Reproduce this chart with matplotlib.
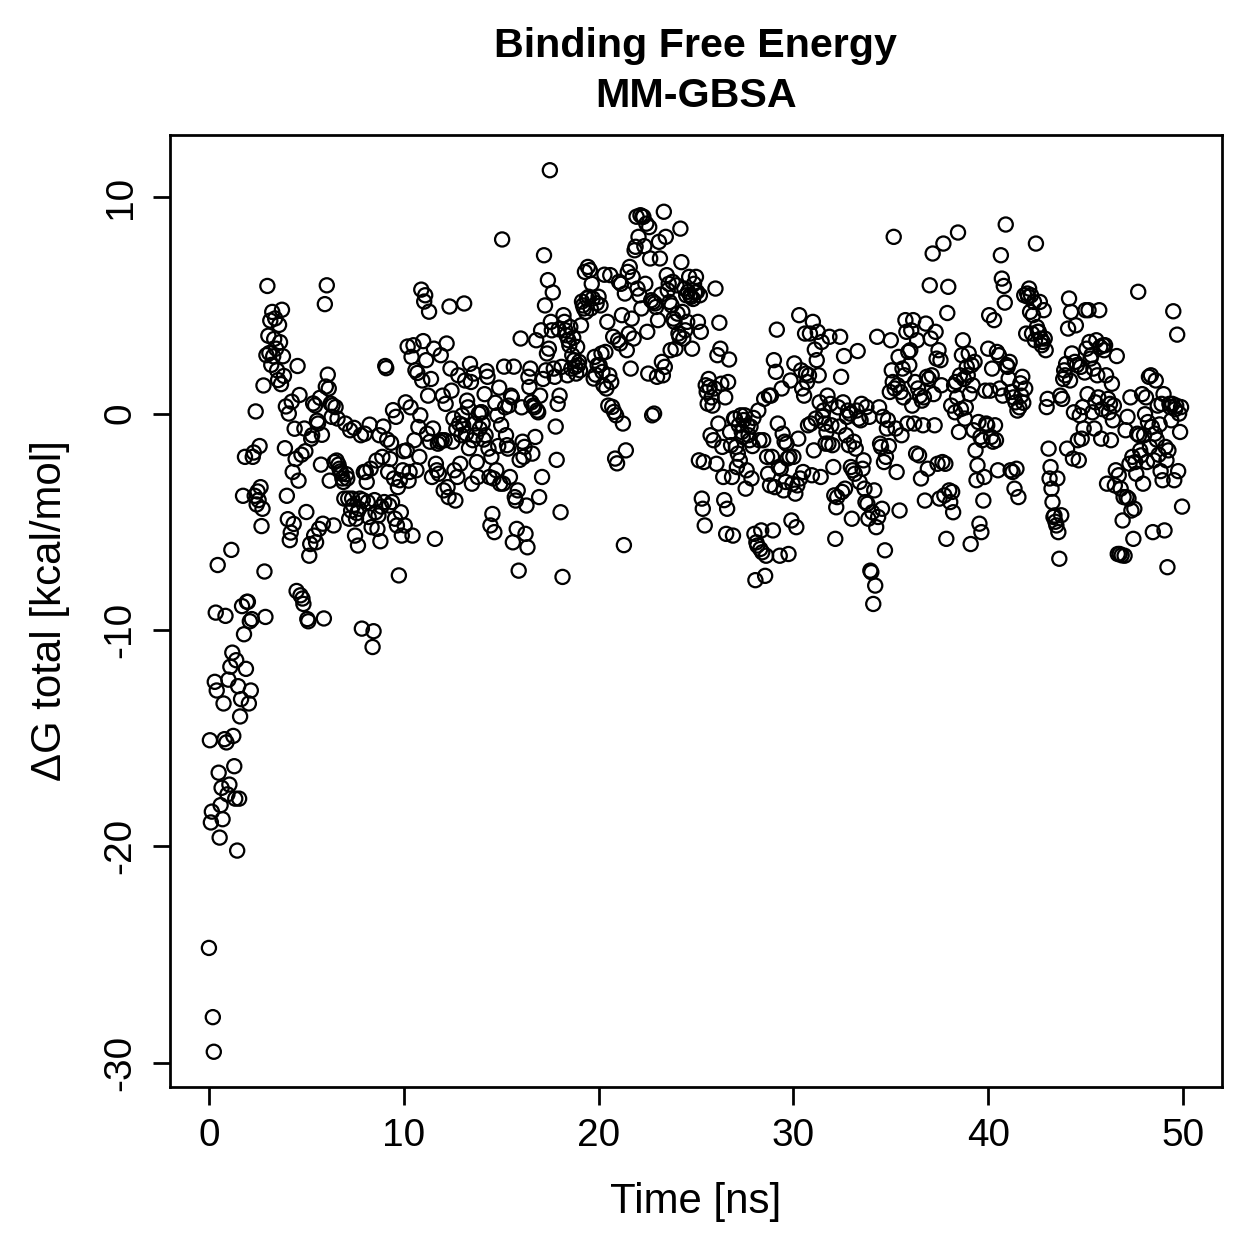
import numpy as np
import matplotlib
matplotlib.use("Agg")
import matplotlib.pyplot as plt

# MM-GBSA total binding free energy per frame (kcal/mol)
# one list per 10 ns of trajectory, 20 frames per ns
dg_00_10 = [
    -24.7, -15.1, -18.9, -18.4, -27.9, -29.5, -12.4, -9.2, -12.8, -7.0,
    -16.6, -19.6, -18.1, -17.3, -18.75, -13.4, -15.05, -9.35, -15.2, -17.6,
    -12.3, -17.15, -11.7, -6.3, -11.05, -14.9, -16.3, -17.8, -11.4, -20.2,
    -12.6, -17.8, -14.0, -13.2, -8.9, -3.8, -10.2, -2.0, -11.8, -8.7,
    -8.7, -13.4, -9.6, -12.8, -9.5, -2.0, -1.8, -3.8, 0.1, -4.2,
    -3.6, -4.0, -1.5, -3.4, -5.2, -4.4, 1.3, -7.3, -9.4, 2.7,
    5.9, 3.6, 2.8, 4.3, 2.25, 4.7, 2.65, 3.45, 4.4, 3.0,
    2.0, 1.55, 4.1, 3.3, 1.36, 4.8, 2.65, 1.74, -1.6, 0.33,
    -3.8, -4.88, 0.0, -5.85, -5.5, 0.55, -2.7, -5.1, -0.7, -2.1,
    -8.2, 2.2, -3.1, 0.86, -8.4, -1.9, -8.55, -8.8, -0.69, -1.74,
    -4.55, -9.5, -9.6, -6.57, -6.03, -1.16, -1.0, 0.47, -5.64, 0.38,
    -5.95, -0.33, -0.46, -5.33, 0.73, -2.36, -0.98, -5.09, -9.47, 5.06,
    1.25, 5.93, 1.8, 1.16, -3.1, 0.46, -0.15, 0.38, -5.17, -2.24,
    0.3, -2.17, -0.23, -2.36, -2.55, -2.67, -2.78, -3.0, -3.16, -3.93,
    -0.46, -2.8, -3.0, -3.93, -4.86, -0.77, -4.48, -3.93, -4.25, -0.66,
    -5.64, -4.86, -4.6, -6.1, -4.4, -3.93, -1.0, -9.94, -4.0, -2.7,
    -0.93, -2.7, -3.16, -4.09, -4.78, -0.51, -2.55, -5.25, -10.79, -10.06,
    -4.0, -4.56, -2.17, -5.33, -4.71, -1.0, -5.9, -4.3, -2.0, -0.6,
    -4.09, 2.2, 2.1, -1.2, -2.7, -4.25, -2.1, -1.35, -4.09, 0.16,
    -3.0, -4.86, -0.15, -5.17, -3.4, -7.48, -3.08, -4.56, -5.64, -2.62,
]
dg_10_20 = [
    -1.74, -5.17, 0.52, -1.7, 3.1, -3.1, -2.7, 0.29, 2.62, -5.64,
    3.16, -1.23, 2.0, -2.62, 1.88, -0.62, -2.0, -0.08, 5.73, 1.53,
    3.35, 5.18, 5.47, 2.47, -0.93, 0.83, 4.71, -1.3, 1.6, -2.93,
    -0.69, 3.0, -5.79, -2.32, -2.62, -1.39, -2.78, -1.3, 2.7, -1.23,
    0.83, -3.55, -1.23, 0.45, 3.24, -3.4, -3.86, 4.95, 2.08, 1.06,
    -1.3, -0.23, -2.62, -4.02, -0.7, -2.93, 1.77, -0.46, -2.32, -1.0,
    -0.08, -0.54, 5.09, 1.53, -0.93, 0.6, 0.29, -1.6, 2.3, 1.46,
    -3.24, -1.23, 1.85, -0.46, -1.0, -2.24, -2.93, 0.0, -0.7, 0.06,
    0.06, -0.46, -1.2, 0.9, -1.0, 1.96, 1.7, -1.62, -2.93, -5.17,
    -2.0, -4.64, -3.0, -5.48, 0.5, -2.62, -0.08, -1.5, 1.2, -3.24,
    -0.53, 8.05, -3.24, 2.17, 0.29, -1.0, -1.46, -1.62, 0.37, -2.93,
    0.83, 0.75, -5.95, 2.17, -3.86, -4.02, -5.33, -3.55, -7.26, -2.14,
    3.47, 0.29, -1.3, -2.0, -1.54, -5.56, -4.25, -6.18, 1.7, 1.23,
    2.08, 0.52, -1.85, 0.37, 0.29, -1.08, 3.39, 0.14, 0.06, -3.86,
    0.83, 3.85, -2.93, 1.6, 7.32, 5.0, 2.0, 2.78, 6.17, 3.0,
    11.25, 4.24, 3.85, 5.6, 2.08, 1.7, -0.6, -2.14, 0.45, 3.9,
    0.83, -4.56, 2.16, -7.55, 4.55, 4.24, 3.85, 3.62, 1.77, 3.39,
    3.16, 4.0, 2.08, 2.7, 3.5, 2.47, 2.16, 1.85, 3.08, 2.24,
    2.39, 2.0, 4.08, 5.18, 5.0, 4.86, 6.55, 4.7, 5.32, 6.78,
    5.4, 6.63, 4.86, 6.0, 5.32, 1.62, 2.62, 1.8, 5.1, 2.24,
]
dg_20_30 = [
    5.4, 2.24, 5.0, 2.78, 1.93, 1.31, 6.42, 2.85, 1.16, 4.24,
    0.37, 1.77, 6.4, 1.46, 0.31, 3.55, 0.08, -2.08, -0.08, -2.3,
    3.39, 6.09, 3.24, 6.0, 4.55, -0.46, -6.08, 5.55, -1.7, 2.93,
    6.55, 3.7, 6.78, 2.08, 4.39, 6.32, 3.47, 7.55, 7.71, 9.1,
    5.78, 8.17, 5.47, 9.17, 4.86, 9.1, 9.1, 7.74, 6.0, 8.78,
    3.78, 1.85, 8.62, 7.17, 5.24, -0.08, 5.16, 0.0, 5.09, 4.93,
    1.7, 4.32, 7.94, 7.17, 5.5, 2.39, 1.77, 9.33, 2.16, 8.17,
    6.4, 5.7, 6.0, 5.16, 2.93, 5.0, 6.09, 4.39, 4.24, 3.0,
    5.93, 4.62, 3.7, 3.55, 8.55, 7.0, 4.7, 3.47, 5.78, 3.85,
    5.47, 4.24, 5.63, 6.32, 5.47, 5.4, 3.0, 5.3, 6.0, 5.6,
    6.32, 5.63, 4.24, -2.16, 5.47, 3.78, -3.93, -4.4, -2.24, -5.17,
    1.31, 1.0, 0.46, 1.6, 1.23, -1.0, 0.75, 0.37, -1.23, 1.16,
    5.78, -2.32, 2.7, -0.46, 4.2, 3.0, 1.38, -1.54, -2.93, -4.0,
    0.75, -5.56, -4.4, 1.46, 2.5, -0.85, -1.46, -2.93, -5.64, -0.23,
    -0.23, -1.54, -2.47, -1.85, -0.54, -2.16, -0.08, -0.85, -1.08, -0.3,
    -0.08, -3.47, -2.62, -0.54, -1.0, -1.23, -0.6, -3.0, -1.5, -0.2,
    -5.56, -7.7, -5.95, -6.1, 0.14, -1.23, -6.26, -5.4, -6.41, -1.23,
    0.68, -7.5, -6.57, -2.0, -2.78, 0.83, -3.32, 0.83, -2.0, -5.4,
    2.47, -3.4, 1.93, 3.88, -0.46, -2.47, -6.57, -2.55, 1.16, -0.93,
    -3.55, -1.3, -3.16, -1.39, -2.08, -6.49, -2.0, 1.53, -4.94, -3.24,
]
dg_30_40 = [
    -2.0, 2.32, -3.7, -5.25, -3.32, -1.16, 4.55, -3.0, 2.0, 1.16,
    -2.7, 0.83, 3.7, 1.85, 1.46, -0.54, 1.77, 3.7, -0.46, -2.85,
    4.24, -1.7, 2.96, -0.23, 2.47, 3.78, 1.77, 0.52, -2.93, 3.31,
    -0.15, 0.14, -0.46, -1.39, -0.85, 0.83, -1.39, 3.55, 0.45, -0.54,
    -1.46, -2.47, -3.78, -5.79, -4.33, -3.86, 0.29, -0.6, 3.55, 1.7,
    -3.62, 0.52, 2.66, -3.47, -1.0, -0.15, 0.14, -1.46, 0.0, -2.47,
    -4.86, -2.62, -1.3, -2.78, -1.62, 0.14, 2.89, -0.23, -3.16, -0.31,
    0.45, -2.55, -2.16, -3.47, -4.09, 0.3, -4.17, -4.86, -0.15, -7.26,
    -7.33, -4.56, -8.8, -3.55, -7.95, -5.25, 3.55, -4.78, 0.29, -1.39,
    -1.54, -4.4, -0.15, -2.24, -6.32, -2.0, -0.69, -0.3, -1.5, 1.0,
    3.39, 2.0, 1.46, 8.17, 1.16, -0.69, -2.7, 1.31, 2.62, -4.48,
    1.0, -1.0, 2.08, 0.75, 1.77, 4.32, 3.78, -0.46, 2.85, 2.24,
    2.93, 3.85, 0.37, 4.32, -0.46, 1.46, -1.85, 3.39, 1.16, -1.93,
    0.83, -3.0, 0.6, -0.54, 0.75, -4.02, 4.16, 1.7, -2.55, 1.6,
    5.93, 3.47, 1.77, 7.4, 0.9, -0.54, 3.78, 2.54, -2.32, 2.93,
    -3.93, 2.47, 1.31, -2.24, 7.86, -3.78, -2.32, -5.79, 4.65, 5.86,
    -3.55, -4.09, 0.37, -3.62, -4.56, 1.31, 0.06, 1.46, 0.75, 8.37,
    -0.85, 1.77, 0.21, 2.7, 3.39, 1.6, -0.23, 0.29, 2.16, 1.77,
    2.78, 0.9, -6.03, 2.24, 1.31, -0.77, 2.39, -1.7, -3.08, -2.39,
    -0.39, -5.09, -1.08, -5.48, -1.23, -4.02, -2.93, 1.06, -0.46, -0.54,
]
dg_40_50 = [
    3.0, 4.55, 1.06, -1.08, 2.08, -1.3, 4.32, -0.54, -1.23, 2.85,
    -2.62, 2.7, 1.16, 7.32, 6.24, 0.83, 5.9, 5.13, 8.74, 2.24,
    2.16, 1.62, 2.39, -2.62, 1.0, -2.7, 0.75, -3.47, 0.52, -2.55,
    0.14, -3.86, 0.29, 1.4, 0.83, 1.7, 0.5, 5.47, 1.16, 3.7,
    5.55, 5.4, 5.78, 4.7, 5.47, 3.7, 4.55, 5.16, 3.39, 7.86,
    4.0, 3.78, 3.78, 5.16, 3.47, 3.16, 3.31, 4.78, 3.47, 2.93,
    0.3, 0.68, -1.62, -3.0, -2.47, -3.47, -4.09, -4.78, -4.71, -5.0,
    -5.17, -3.0, -5.48, -6.71, 0.83, -4.7, 0.68, 1.6, 2.0, 1.77,
    2.3, -1.62, 3.93, 5.32, 1.53, 4.7, 2.78, -2.08, 0.06, 2.39,
    4.08, 2.24, -1.23, -2.16, -0.08, 2.16, -1.16, 0.3, -0.69, 1.9,
    4.78, 3.0, 0.9, 4.78, 3.31, 2.54, 2.7, 0.06, 2.08, -0.69,
    0.52, 3.39, 1.77, 0.75, 4.78, 3.08, -1.16, 0.21, 3.16, 2.93,
    3.16, 1.77, -3.24, 0.68, 0.06, 0.45, -1.23, 1.38, -0.31, 0.37,
    -3.32, -2.62, 2.66, -6.49, -2.85, -6.49, -3.47, -6.55, -4.94, -3.86,
    -6.57, -0.77, -3.86, -0.15, -3.93, -2.32, 0.75, -4.48, -2.0, -5.79,
    -4.4, -2.24, -2.78, -0.93, 5.63, -1.0, -1.7, -1.93, 0.9, -3.24,
    -1.0, -0.03, 0.75, -2.24, -0.39, 1.7, -1.54, 1.77, -0.62, -5.48,
    -2.16, -0.93, 1.53, -1.2, 0.37, -1.9, -0.5, -2.66, 0.45, -3.08,
    0.9, -5.4, -1.54, -2.16, -7.1, -1.7, 0.45, 0.3, -0.31, 0.45,
    4.73, -3.08, 0.2, 0.37, 3.65, -2.66, 0.0, -0.85, 0.3, -4.3,
]
segments = [dg_00_10, dg_10_20, dg_20_30, dg_30_40, dg_40_50]

x_ticks = [0, 10, 20, 30, 40, 50]
y_ticks = [-30, -20, -10, 0, 10]

# frame times: each segment spans 10 ns
time = np.concatenate([10 * k + np.arange(len(s)) * 10.0 / len(s)
                       for k, s in enumerate(segments)])
dg = np.concatenate([np.asarray(s, dtype=float) for s in segments])

plt.rcParams['font.family'] = ['Liberation Sans', 'DejaVu Sans']
plt.rcParams['axes.unicode_minus'] = False

fig = plt.figure(figsize=(1259 / 180, 1259 / 180), dpi=180)
ax = fig.add_axes([0.135, 0.1366, 0.8356, 0.7562])

ax.scatter(time, dg, s=32, facecolors='none', edgecolors='black', linewidths=0.9)

# R style 4% padding around data range
xr = 50.0
ax.set_xlim(-0.04 * xr, 50 + 0.04 * xr)
ymin, ymax = dg.min(), dg.max()
yr = ymax - ymin
ax.set_ylim(ymin - 0.04 * yr, ymax + 0.04 * yr)

ax.set_xticks(x_ticks)
ax.set_yticks(y_ticks)
ax.tick_params(direction='out', length=7, width=1.1, labelsize=15.5, pad=5.5)
for lab in ax.get_yticklabels():
    lab.set_rotation(90)
    lab.set_va('center')
for sp in ax.spines.values():
    sp.set_linewidth(1.1)

fig.text(0.5528, 1 - 46 / 1259, 'Binding Free Energy', ha='center', va='center',
         fontsize=16.5, fontweight='bold')
fig.text(0.5528, 1 - 96 / 1259, 'MM-GBSA', ha='center', va='center',
         fontsize=16.5, fontweight='bold')
fig.text(0.5528, 1 - 1202 / 1259, 'Time [ns]', ha='center', va='center', fontsize=16.8)
fig.text(50 / 1259, 1 - 611 / 1259, 'ΔG total [kcal/mol]', ha='center', va='center',
         rotation=90, fontsize=16.8)

fig.savefig('out.png', dpi=180)
